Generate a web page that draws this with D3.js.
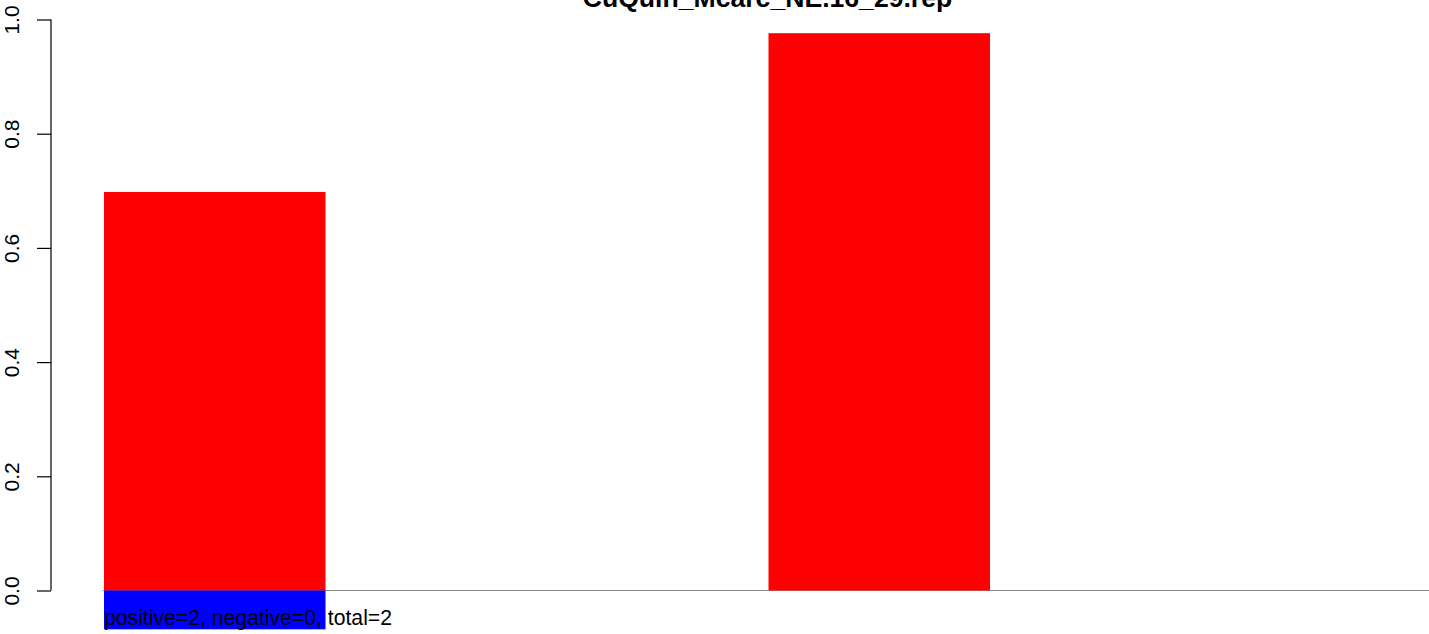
<!DOCTYPE html>
<html>
<head>
<meta charset="utf-8">
<script src="https://cdn.jsdelivr.net/npm/d3@7"></script>
<style>
  html, body { margin: 0; padding: 0; background: #fff; }
  svg { display: block; }
  text { font-family: "Liberation Sans", Arial, sans-serif; }
</style>
</head>
<body>
<svg id="chart" width="1429" height="634"></svg>
<script>
// ---- data ----
const title = "CuQuin_Mcarc_NE.16_29.rep";
const categories = ["1", "2"];
const positiveValues = [0.698, 0.976];
const negativeValues = [-0.068, 0];
const yTicks = [0.0, 0.2, 0.4, 0.6, 0.8, 1.0];
const note = "positive=2, negative=0, total=2";

// ---- layout ----
const W = 1429, H = 634;
const svg = d3.select("#chart");

const y = d3.scaleLinear().domain([0, 1]).range([590.5, 19.5]);
// bar units: each bar occupies 1 unit, separated by 2 units of space
const unit = 221.5;
const x = d3.scaleLinear().domain([0, 6]).range([104, 104 + 6 * unit]);
const barStart = (i) => i * 3;

// baseline (grey)
svg.append("line")
  .attr("x1", 103).attr("x2", W)
  .attr("y1", y(0)).attr("y2", y(0))
  .attr("stroke", "#8a8a8a").attr("stroke-width", 1.2);

// positive bars
svg.selectAll("rect.pos").data(categories).enter().append("rect")
  .attr("class", "pos")
  .attr("x", (d, i) => x(barStart(i)))
  .attr("width", (d, i) => x(barStart(i) + 1) - x(barStart(i)))
  .attr("y", (d, i) => y(positiveValues[i]))
  .attr("height", (d, i) => y(0) - y(positiveValues[i]))
  .attr("fill", "#ff0000");

// negative bars
svg.selectAll("rect.neg").data(categories).enter().append("rect")
  .attr("class", "neg")
  .attr("x", (d, i) => x(barStart(i)))
  .attr("width", (d, i) => x(barStart(i) + 1) - x(barStart(i)))
  .attr("y", y(0))
  .attr("height", (d, i) => y(negativeValues[i]) - y(0))
  .attr("fill", "#0000ff");

// y axis
const axisX = 51;
const yAxis = d3.axisLeft(y).tickValues(yTicks).tickFormat(d3.format(".1f")).tickSize(14).tickPadding(0);
const g = svg.append("g").attr("transform", `translate(${axisX},0)`).call(yAxis);
g.select(".domain").attr("stroke", "#000").attr("stroke-width", 1.2)
  .attr("d", `M0,${y(0)}V${y(1)}`);
g.selectAll(".tick line").attr("stroke", "#000").attr("stroke-width", 1.2);
g.selectAll(".tick text")
  .attr("x", 0).attr("y", 0).attr("dy", 0)
  .attr("text-anchor", "middle")
  .style("font-size", "21px")
  .attr("fill", "#000")
  .attr("transform", "translate(-32,0) rotate(-90)");

// title
svg.append("text")
  .attr("x", 767.5).attr("y", 7)
  .attr("text-anchor", "middle")
  .style("font-size", "26.6px").style("font-weight", "bold")
  .text(title);

// note text
svg.append("text")
  .attr("x", 104).attr("y", 624.5)
  .style("font-size", "21.2px")
  .attr("fill", "#000")
  .text(note);
</script>
</body>
</html>
